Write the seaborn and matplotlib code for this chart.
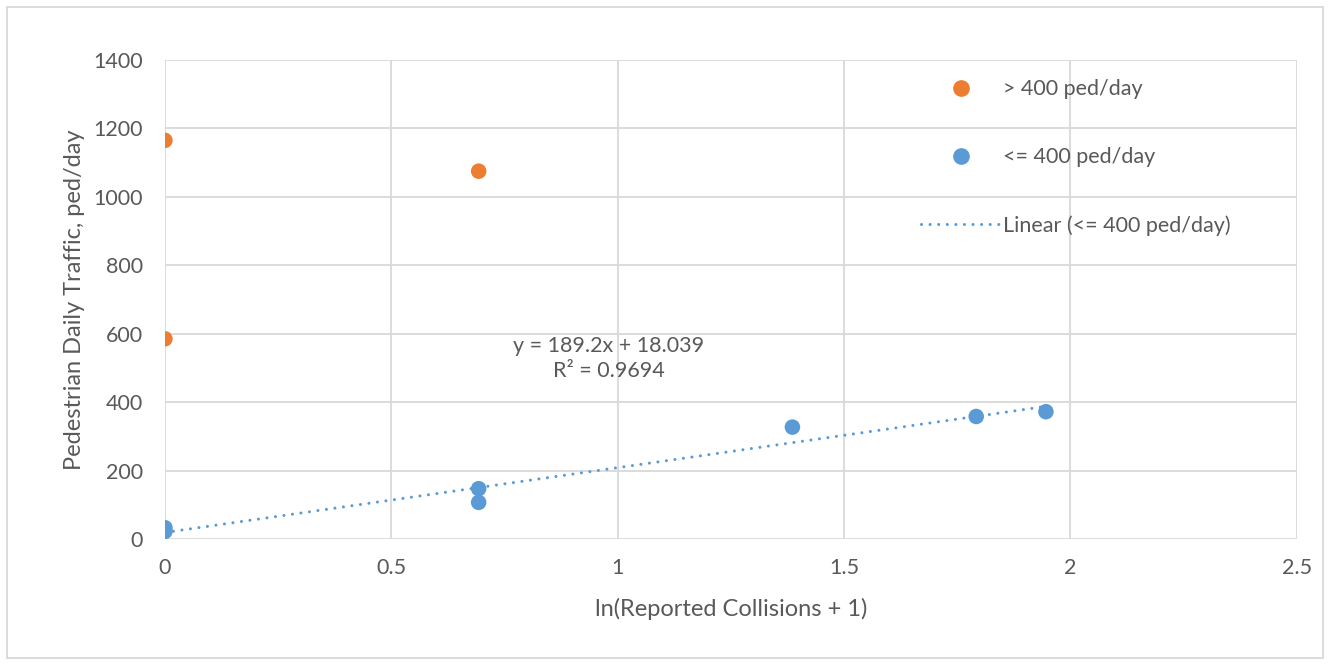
import numpy as np
import pandas as pd
import matplotlib.pyplot as plt
from matplotlib.lines import Line2D
import seaborn as sns

# data
high_x = [0.0, 0.0, 0.693]
high_y = [1165, 585, 1075]
low_x = [0.0, 0.0, 0.693, 0.693, 1.386, 1.792, 1.946]
low_y = [33, 22, 147, 107, 327, 358, 372]
groups = ['> 400 ped/day', '<= 400 ped/day']
eq_text = 'y = 189.2x + 18.039\nR² = 0.9694'

orange = '#ED7D31'
blue = '#5B9BD5'
grey_txt = '#595959'
grid_c = '#D9D9D9'

df = pd.DataFrame({
    'x': high_x + low_x,
    'y': high_y + low_y,
    'grp': [groups[0]] * len(high_x) + [groups[1]] * len(low_x),
})

sns.set_style('white')
plt.rcParams['font.family'] = ['Lato', 'DejaVu Sans']

fig = plt.figure(figsize=(13.3, 6.65), dpi=100)
ax = fig.add_axes([0.124, 0.1895, 0.851, 0.7203])

sns.scatterplot(data=df, x='x', y='y', hue='grp', palette={groups[0]: orange, groups[1]: blue},
                s=125, edgecolor='none', ax=ax, legend=False, zorder=3)

# linear trend on the low group
slope, icpt = np.polyfit(low_x, low_y, 1)
xs = np.array([0, max(low_x)])
ax.plot(xs, slope * xs + icpt, color=blue, lw=2.2, linestyle=(0, (0.01, 2.8)),
        dash_capstyle='round', zorder=2)

ax.set_xlim(0, 2.5)
ax.set_ylim(0, 1400)
ax.set_xticks(np.arange(0, 2.51, 0.5))
ax.set_xticklabels(['0', '0.5', '1', '1.5', '2', '2.5'])
ax.set_yticks(np.arange(0, 1401, 200))
ax.grid(True, color=grid_c, lw=1.3)
ax.set_axisbelow(True)
for s in ax.spines.values():
    s.set_visible(False)
ax.tick_params(length=0, labelsize=15.5, labelcolor=grey_txt, pad=16)
ax.tick_params(axis='x', pad=14)
ax.set_xlabel('ln(Reported Collisions + 1)', fontsize=17, color=grey_txt, labelpad=14)
ax.set_ylabel('Pedestrian Daily Traffic, ped/day', fontsize=17, color=grey_txt, labelpad=6)

ax.text(0.98, 527, eq_text, ha='center', va='center', fontsize=15.5, color=grey_txt,
        linespacing=1.35)

handles = [
    Line2D([], [], marker='o', color=orange, ls='none', markersize=11),
    Line2D([], [], marker='o', color=blue, ls='none', markersize=11),
    Line2D([], [], color=blue, lw=2.2, linestyle=(0, (0.01, 2.8)), dash_capstyle='round'),
]
labels = groups + ['Linear (<= 400 ped/day)']
leg = ax.legend(handles, labels, loc='upper left', bbox_to_anchor=(0.651, 1.0),
                frameon=False, fontsize=15.5, labelspacing=2.22, handlelength=3.7,
                handletextpad=0.1, labelcolor=grey_txt)

# outer chart border
fig.add_artist(plt.Rectangle((0.005, 0.01), 0.99, 0.98, transform=fig.transFigure,
                             fill=False, edgecolor=grid_c, lw=1.3))

fig.savefig('out.png', dpi=100)
